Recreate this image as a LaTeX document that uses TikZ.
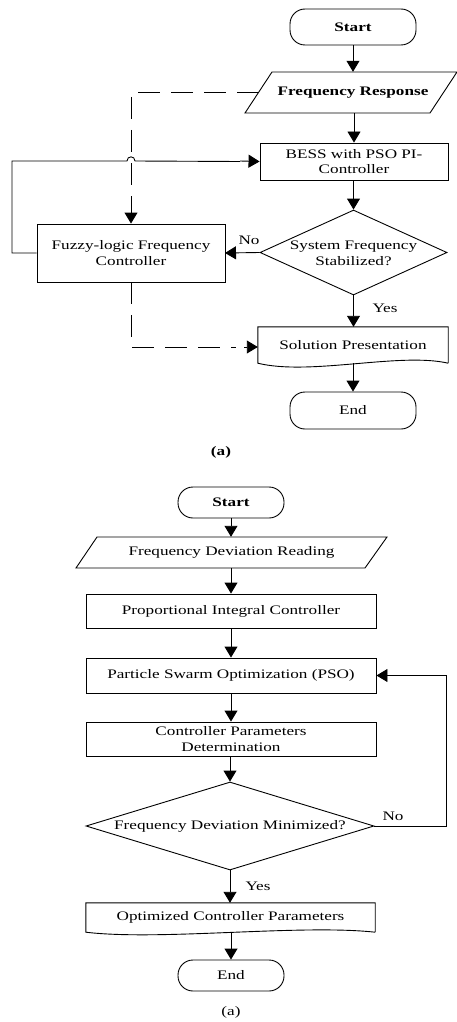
\documentclass[tikz,border=0pt]{standalone}
\usepackage{fontspec}
\setmainfont[FakeStretch=1.32]{Liberation Serif}
\usetikzlibrary{arrows.meta,calc,shapes.geometric}
\begin{document}
\begin{tikzpicture}[x=1pt,y=-1pt,
  every node/.style={font=\fontsize{13}{15.5}\selectfont, align=center, inner sep=0pt},
  term/.style={draw, line width=0.9pt, rounded corners=15pt},
  procbox/.style={draw, line width=0.9pt, rectangle},
  ghost/.style={rectangle},
  shapeline/.style={line width=0.9pt},
  conn/.style={line width=0.9pt, -{Triangle[length=11pt,width=13pt]}},
  plainline/.style={line width=0.9pt},
  dashconn/.style={line width=0.9pt, dash pattern=on 22pt off 11pt},
  lbl/.style={font=\fontsize{13}{14}\selectfont}
]
\useasboundingbox (0,0) rectangle (457,1022);
\fill[white] (0,0) rectangle (457,1022);

% ---------------- top flowchart ----------------
\node[term, minimum width=126pt, minimum height=36pt] (start1) at (353,27) {\bfseries Start};
\node[ghost, minimum width=185pt, minimum height=41pt] (fr) at (353,92.5) {\bfseries Frequency Response};
\draw[shapeline] (272,72) -- (457,72) -- (430,113) -- (245,113) -- cycle;
\coordinate (frl) at (258.5,92.5);
\node[procbox, minimum width=188pt, minimum height=37pt] (bess) at (354,161.5) {BESS with PSO PI-\\Controller};
\node[diamond, draw, line width=0.9pt, minimum width=187pt, minimum height=85pt] (dia1) at (353.5,252.5) {};
\node at (dia1.center) [yshift=-1pt] (dia1t) {System Frequency\\Stabilized?};
\node[procbox, minimum width=188pt, minimum height=58pt] (fuzzy) at (131,253) {Fuzzy-logic Frequency\\Controller};
\node[ghost, minimum width=190pt, minimum height=36pt] (sol) at (353,345) {Solution Presentation};
\draw[shapeline] (sol.south east) -- (sol.north east) -- (sol.north west) -- (sol.south west)
  .. controls (310,376) and (400,352) .. (sol.south east);
\node[term, minimum width=126pt, minimum height=37pt] (end1) at (353,410.5) {End};
\node[lbl] (capa) at (221,452) {\bfseries (a)};

\draw[conn] (start1) -- (start1.south |- fr.north);
\draw[conn] (fr.south -| bess.north) -- (bess.north);
\draw[conn] (bess.south -| dia1.north) -- (dia1.north);
\draw[conn] (dia1.west) -- (fuzzy.east -| 225,0) coordinate (noend);
\node[lbl] (no1) at (249,240) {No};
\draw[conn] (dia1.south) -- (dia1.south |- sol.north);
\node[lbl] (yes1) at (385,308) {Yes};
\draw[conn] (sol.south -| end1.north) -- (end1.north);
% loop with hop
\coordinate (lp1) at (12,253);
\coordinate (lp2) at (12,161);
\draw[plainline] (fuzzy.west) -- (lp1) -- (lp2) -- (127,161)
  .. controls (127,155.5) and (135,155.5) .. (135,161) -- (bess.west -| 240,161);
\draw[conn] (240,161) -- (bess.west);
% dashed
\coordinate (d1) at (131,92.5);
\draw[dashconn] (frl) -- (d1) -- ($(fuzzy.north)+(0,-10)$);
\draw[conn] ($(fuzzy.north)+(0,-11)$) -- (fuzzy.north);
\coordinate (d2) at (131,347);
\draw[dashconn] (fuzzy.south) -- (d2) -- (236,347);
\draw[conn] (244,347) -- (sol.west |- d2);

% ---------------- bottom flowchart ----------------
\node[term, minimum width=106pt, minimum height=31pt] (start2) at (231,502.5) {\bfseries Start};
\node[ghost, minimum width=290pt, minimum height=31pt] (fdr) at (231.5,552.5) {Frequency Deviation Reading};
\draw[shapeline] (97,537) -- (387,537) -- (365,568) -- (76,568) -- cycle;
\node[procbox, minimum width=290pt, minimum height=34pt] (pi) at (231,611) {Proportional Integral Controller};
\node[procbox, minimum width=290pt, minimum height=35pt] (pso) at (231,675.5) {Particle Swarm Optimization (PSO)};
\node[procbox, minimum width=290pt, minimum height=34pt] (cpd) at (231,739) {Controller Parameters\\Determination};
\node[diamond, draw, line width=0.9pt, minimum width=288pt, minimum height=88pt] (dia2) at (230,826) {};
\node at (dia2.center) (dia2t) {Frequency Deviation Minimized?};
\node[ghost, minimum width=289pt, minimum height=29pt] (opt) at (230.5,917.5) {Optimized Controller Parameters};
\draw[shapeline] (opt.south east) -- (opt.north east) -- (opt.north west) -- (opt.south west)
  .. controls (160,941) and (300,924) .. (opt.south east);
\node[term, minimum width=106pt, minimum height=31pt] (end2) at (231,975.5) {End};
\node[lbl] (capb) at (231,1012) {(a)};

\draw[conn] (start2.south) -- (start2.south |- fdr.north);
\draw[conn] (fdr.south -| pi.north) -- (pi.north);
\draw[conn] (pi.south) -- (pso.north);
\draw[conn] (pso.south) -- (cpd.north);
\draw[conn] (cpd.south -| dia2.north) -- (dia2.north);
\draw[conn] (dia2.south) -- (dia2.south |- opt.north);
\node[lbl] (yes2) at (258,886) {Yes};
\draw[conn] (opt.south -| end2.north) -- (end2.north);
\coordinate (r1) at (446,826);
\coordinate (r2) at (446,675.5);
\draw[plainline] (dia2.east) -- (r1) -- (r2) -- (400,675.5);
\draw[conn] (401,675.5) -- (pso.east);
\node[lbl] (no2) at (393,816) {No};
\end{tikzpicture}
\end{document}
